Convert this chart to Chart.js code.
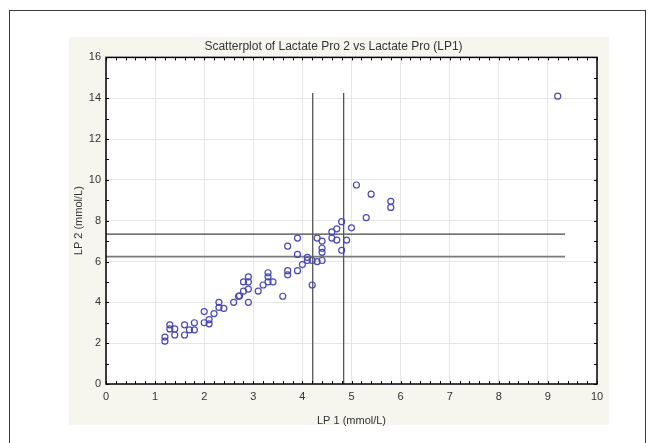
<!DOCTYPE html>
<html>
<head>
<meta charset="utf-8">
<script src="https://cdn.jsdelivr.net/npm/chart.js@4/dist/chart.umd.min.js"></script>
<style>
  html, body { margin: 0; padding: 0; background: #ffffff; }
  #wrap { width: 653px; height: 443px; position: relative; }
</style>
</head>
<body>
<div id="wrap"><canvas id="c" width="653" height="443"></canvas></div>
<script>
// ---- data ----
const lp1 = [1.2, 1.2, 1.3, 1.3, 1.4, 1.4, 1.6, 1.6, 1.7, 1.8, 1.8, 2.0, 2.0, 2.1, 2.1, 2.2,
             2.3, 2.3, 2.4, 2.6, 2.7, 2.72, 2.8, 2.8, 2.9, 2.9, 2.9, 2.9, 3.1, 3.2, 3.3, 3.3,
             3.3, 3.4, 3.6, 3.7, 3.7, 3.7, 3.9, 3.9, 3.9, 4.0, 4.1, 4.1, 4.2, 4.2, 4.3, 4.3,
             4.4, 4.4, 4.4, 4.4, 4.6, 4.6, 4.7, 4.7, 4.8, 4.8, 4.9, 5.0, 5.1, 5.3, 5.4, 5.8,
             5.8, 9.2];
const lp2 = [2.1, 2.3, 2.9, 2.7, 2.7, 2.4, 2.9, 2.4, 2.65, 3.0, 2.65, 3.55, 3.0, 3.15, 2.95, 3.45,
             4.0, 3.75, 3.7, 4.0, 4.3, 4.32, 4.55, 5.0, 5.25, 5.0, 4.65, 4.0, 4.55, 4.85, 5.45, 5.25,
             5.0, 5.0, 4.3, 6.75, 5.55, 5.35, 7.15, 6.35, 5.55, 5.85, 6.2, 6.05, 6.05, 4.85, 7.15, 6.0,
             7.0, 6.65, 6.45, 6.05, 7.45, 7.15, 7.6, 7.05, 7.95, 6.55, 7.05, 7.65, 9.75, 8.15, 9.3, 8.95,
             8.65, 14.1];
// reference lines
const refX = [4.21, 4.84];        // vertical lines at LP1 values
const refXTop = 14.25;            // vertical lines run from 0 up to this LP2 value
const refY = [7.34, 6.24];        // horizontal lines at LP2 values
const refYRight = 9.35;           // horizontal lines run from 0 to this LP1 value
const xRange = [0, 10];
const yRange = [0, 16];
const xMinorStep = 0.2;
const yMinorStep = 1;

const titleText = 'Scatterplot of Lactate Pro 2 vs Lactate Pro (LP1)';
const xTitle = 'LP 1 (mmol/L)';
const yTitle = 'LP 2 (mmol/L)';

const FONT = "'Liberation Sans', Arial, sans-serif";

const points = lp1.map((x, i) => ({ x: x, y: lp2[i] }));

const lineDatasets = [];
refX.forEach((v) => {
  lineDatasets.push({
    data: [{ x: v, y: 0 }, { x: v, y: refXTop }],
    showLine: true, pointRadius: 0, borderColor: '#555555', borderWidth: 1.3
  });
});
refY.forEach((v, i) => {
  lineDatasets.push({
    data: [{ x: 0, y: v }, { x: refYRight, y: v }],
    showLine: true, pointRadius: 0,
    borderColor: i === 0 ? '#444444' : '#7a7a7a', borderWidth: i === 0 ? 1.3 : 1.8
  });
});

const decor = {
  id: 'decor',
  beforeDraw(chart) {
    const ctx = chart.ctx;
    const a = chart.chartArea;
    ctx.save();
    ctx.fillStyle = '#ffffff';
    ctx.fillRect(0, 0, chart.width, chart.height);
    ctx.strokeStyle = '#3a3a3a';
    ctx.lineWidth = 1;
    ctx.strokeRect(9.5, 10.5, 636, 460);
    ctx.fillStyle = '#f6f5ee';
    ctx.fillRect(69, 37, 540, 388);
    ctx.fillStyle = '#ffffff';
    ctx.fillRect(a.left, a.top, a.right - a.left, a.bottom - a.top);
    ctx.restore();
  },
  afterDraw(chart) {
    const ctx = chart.ctx;
    const a = chart.chartArea;
    const xs = chart.scales.x, ys = chart.scales.y;
    ctx.save();
    ctx.strokeStyle = '#000000';
    ctx.lineWidth = 1;
    ctx.beginPath();
    const n = Math.round((xRange[1] - xRange[0]) / xMinorStep);
    for (let i = 0; i <= n; i++) {
      const px = Math.round(xs.getPixelForValue(xRange[0] + i * xMinorStep)) + 0.5;
      ctx.moveTo(px, a.bottom); ctx.lineTo(px, a.bottom - 3);
      ctx.moveTo(px, a.top); ctx.lineTo(px, a.top + 3);
    }
    const m = Math.round((yRange[1] - yRange[0]) / yMinorStep);
    for (let i = 0; i <= m; i++) {
      const py = Math.round(ys.getPixelForValue(yRange[0] + i * yMinorStep)) + 0.5;
      ctx.moveTo(a.left, py); ctx.lineTo(a.left + 3, py);
      ctx.moveTo(a.right, py); ctx.lineTo(a.right - 3, py);
    }
    ctx.stroke();
    ctx.lineWidth = 1.5;
    ctx.strokeRect(a.left, a.top, a.right - a.left, a.bottom - a.top);
    ctx.restore();
  }
};

new Chart(document.getElementById('c'), {
  type: 'scatter',
  data: {
    datasets: [{
      data: points,
      pointStyle: 'circle',
      pointRadius: 3,
      pointBorderWidth: 1.2,
      pointBorderColor: '#4848b4',
      pointBackgroundColor: 'rgba(255,255,255,0)',
      pointHoverRadius: 3
    }].concat(lineDatasets)
  },
  options: {
    responsive: false,
    animation: false,
    events: [],
    layout: { padding: { left: 70, right: 56, top: 36, bottom: 12 } },
    plugins: {
      legend: { display: false },
      tooltip: { enabled: false },
      title: {
        display: true, text: titleText, color: '#333333',
        font: { family: FONT, size: 12, weight: 'normal', lineHeight: 1.2 },
        padding: { top: 3, bottom: 4 }
      }
    },
    scales: {
      x: {
        type: 'linear', min: xRange[0], max: xRange[1],
        afterFit(s) { s.height = 47; },
        border: { display: false },
        grid: { color: '#e6e6e6', lineWidth: 1, drawTicks: false },
        ticks: { stepSize: 1, padding: 6, color: '#333333', font: { family: FONT, size: 11 }, maxRotation: 0 },
        title: { display: true, text: xTitle, color: '#333333', font: { family: FONT, size: 11 }, padding: { top: 0, bottom: 3 } }
      },
      y: {
        type: 'linear', min: yRange[0], max: yRange[1],
        afterFit(s) { s.width = 36; },
        border: { display: false },
        grid: { color: '#e6e6e6', lineWidth: 1, drawTicks: false },
        ticks: { stepSize: 2, padding: 5, color: '#333333', font: { family: FONT, size: 11 } },
        title: { display: true, text: yTitle, color: '#333333', font: { family: FONT, size: 11 }, padding: { top: 2, bottom: 0 } }
      }
    }
  },
  plugins: [decor]
});
</script>
</body>
</html>
